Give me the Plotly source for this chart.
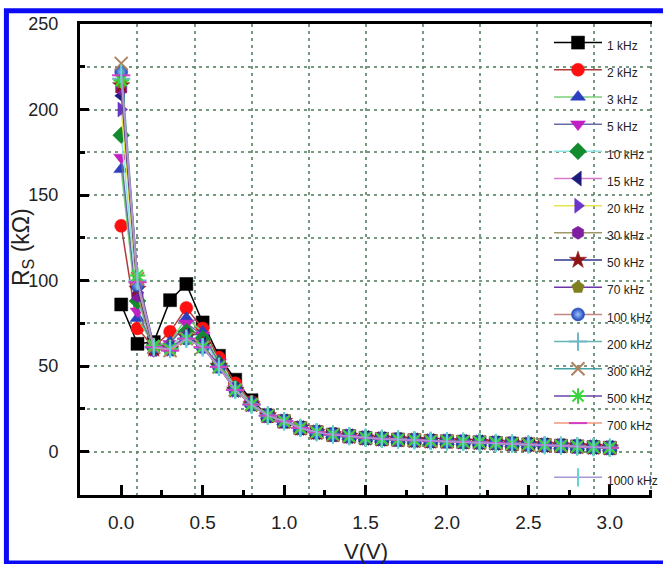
import plotly.graph_objects as go

# Bias voltage (V)
voltage = [0.0, 0.1, 0.2, 0.3, 0.4, 0.5, 0.6, 0.7, 0.8, 0.9, 1.0,
           1.1, 1.2, 1.3, 1.4, 1.5, 1.6, 1.7, 1.8, 1.9, 2.0,
           2.1, 2.2, 2.3, 2.4, 2.5, 2.6, 2.7, 2.8, 2.9, 3.0]

# Above ~0.9 V every frequency gives the same series resistance (kOhm)
rs_common_tail = [21.0, 17.7, 13.8, 11.3, 9.9, 9.0, 8.0, 7.4, 7.0, 6.6, 6.2,
                  6.0, 5.7, 5.4, 5.0, 4.6, 4.2, 3.8, 3.4, 3.0, 2.6, 2.2]

# Series resistance Rs (kOhm) for 0.0 ... 0.8 V at each frequency
rs_1khz = [86, 63, 64, 88.5, 98, 75.5, 56, 42, 30] + rs_common_tail
rs_2khz = [132, 72, 61, 70, 84, 72, 55, 40, 29] + rs_common_tail
rs_3khz = [165, 78, 62, 64, 78, 70, 53, 38, 28.5] + rs_common_tail
rs_5khz = [172, 82, 61, 63, 75, 68, 52, 37, 28] + rs_common_tail
rs_10khz = [185, 88, 61, 61, 70, 66, 51, 37, 28] + rs_common_tail
rs_15khz = [208, 96, 60, 60, 68, 63, 50, 36, 28] + rs_common_tail
rs_20khz = [200, 93, 60, 60, 67, 62, 50, 36, 27.5] + rs_common_tail
rs_30khz = [212, 91, 59, 60, 67, 62, 50, 36, 27.5] + rs_common_tail
rs_50khz = [214, 95, 60, 60, 67, 62, 50, 36, 27.5] + rs_common_tail
rs_70khz = [216, 98, 61, 60, 66, 61, 49.5, 36, 27.5] + rs_common_tail
rs_100khz = [222, 97, 61, 60, 66, 61, 49.5, 36, 27.5] + rs_common_tail
rs_200khz = [218, 100, 61, 60, 66, 61, 49.5, 36, 27.5] + rs_common_tail
rs_300khz = [227, 101, 61, 59, 66, 61, 49.5, 36, 27.5] + rs_common_tail
rs_500khz = [217, 103, 62, 60, 66, 61, 49.5, 36, 27.5] + rs_common_tail
rs_700khz = [220, 99, 61, 59, 66, 61, 49.5, 36, 27.5] + rs_common_tail
rs_1000khz = [221, 100, 61, 60, 66, 61, 49.5, 36, 27.5] + rs_common_tail

series_names = ["1 kHz", "2 kHz", "3 kHz", "5 kHz", "10 kHz", "15 kHz", "20 kHz",
                "30 kHz", "50 kHz", "70 kHz", "100 kHz", "200 kHz", "300 kHz",
                "500 kHz", "700 kHz", "1000 kHz"]
series_values = [rs_1khz, rs_2khz, rs_3khz, rs_5khz, rs_10khz, rs_15khz, rs_20khz,
                 rs_30khz, rs_50khz, rs_70khz, rs_100khz, rs_200khz, rs_300khz,
                 rs_500khz, rs_700khz, rs_1000khz]

# (symbol, marker colour, line colour) per frequency
styles = [
    ("square", "#000000", "#000000"),
    ("circle", "#ff1010", "#b03a3a"),
    ("triangle-up", "#2a3fc0", "#7ccf7c"),
    ("triangle-down", "#c21fc2", "#6a6aa8"),
    ("diamond", "#128a2e", "#8fe3e3"),
    ("triangle-left", "#1c1c7c", "#d77ac9"),
    ("triangle-right", "#6a35c8", "#e6e64a"),
    ("hexagon", "#7d1fa0", "#9d9a66"),
    ("star", "#8e1414", "#34348a"),
    ("pentagon", "#7f7f1e", "#6a35a8"),
    ("circle", "#1d44b8", "#c48585"),
    ("cross-thin", "#6fb7c9", "#66b4b4"),
    ("x-thin", "#b0825c", "#47a3a3"),
    ("asterisk", "#39d43c", "#6a45a8"),
    ("line-ew", "#d23fc7", "#f2977a"),
    ("line-ns", "#66d4d4", "#a897d8"),
]

FONT = "Arial, Liberation Sans, sans-serif"
GRID = "rgba(95,135,105,0.85)"
GRID_DASH = "3px,4px"
X_RANGE = [-0.253, 3.259]

fig = go.Figure()

# Empty trace that puts the secondary x axis (vertical grid) on the plot
fig.add_trace(go.Scatter(x=[None], y=[None], xaxis="x2", yaxis="y",
                         showlegend=False, hoverinfo="skip"))

for i, (name, vals) in enumerate(zip(series_names, series_values)):
    symbol, mcol, lcol = styles[i]
    marker = dict(symbol=symbol, size=13, color=mcol)
    if symbol in ("cross-thin", "x-thin", "asterisk", "line-ew", "line-ns"):
        marker["line"] = dict(color=mcol, width=2)
    else:
        marker["line"] = dict(color=mcol, width=0.5)
    if i == 10:
        marker["gradient"] = dict(type="radial", color="#9cc4ff")
    fig.add_trace(go.Scatter(
        x=voltage, y=vals, mode="lines+markers",
        name='<span style="font-size:12px">%s</span>' % name,
        line=dict(color=lcol, width=1.5),
        marker=marker,
        legendgroup="last" if i == len(series_names) - 1 else "main",
    ))

fig.update_layout(
    width=663, height=564,
    margin=dict(l=80, r=0, t=24, b=69),
    paper_bgcolor="white", plot_bgcolor="white",
    font=dict(family=FONT, color="#222222"),
    showlegend=True,
    legend=dict(
        x=0.82, y=1.0, xanchor="left", yanchor="top",
        bgcolor="rgba(0,0,0,0)", borderwidth=0,
        font=dict(size=18.6, family=FONT, color="#222222"),
        itemwidth=48, traceorder="grouped", tracegroupgap=27,
    ),
    xaxis=dict(
        range=X_RANGE, showgrid=False, zeroline=False,
        showline=True, linecolor="black", linewidth=3, mirror=True,
        ticks="inside", ticklen=10, tickwidth=2.5, tickcolor="black",
        tick0=0, dtick=0.5, tickformat=".1f",
        minor=dict(dtick=0.25, ticks="inside", ticklen=5, tickwidth=2.5,
                   tickcolor="black", showgrid=False),
        tickfont=dict(size=19), ticklabelstandoff=8,
        title=dict(text="V(V)", font=dict(size=22), standoff=14),
    ),
    xaxis2=dict(
        overlaying="x", anchor="y", side="bottom", range=X_RANGE,
        tick0=0.1, dtick=0.35, showgrid=True, gridcolor=GRID, gridwidth=1.5,
        griddash=GRID_DASH, showticklabels=False, ticks="", showline=False,
        zeroline=False,
    ),
    yaxis=dict(
        range=[-25.4, 250], zeroline=False,
        showline=True, linecolor="black", linewidth=3, mirror=False,
        ticks="inside", ticklen=9, tickwidth=2.5, tickcolor="black",
        tick0=0, dtick=50,
        showgrid=True, gridcolor=GRID, gridwidth=1.5, griddash=GRID_DASH,
        minor=dict(dtick=25, ticks="inside", ticklen=5, tickwidth=2.5,
                   tickcolor="black", showgrid=True, gridcolor=GRID,
                   gridwidth=1.5, griddash=GRID_DASH),
        tickfont=dict(size=18), ticklabelstandoff=15,
    ),
    annotations=[dict(
        text="R<sub>S</sub> (k\u03a9)", textangle=-90, showarrow=False,
        xref="paper", yref="paper", x=(21 - 80) / 583, y=(495 - 247) / 471,
        xanchor="center", yanchor="middle",
        font=dict(size=23, family=FONT, color="#222222"),
    )],
    shapes=[dict(
        type="rect", xref="paper", yref="paper",
        x0=(5 - 80) / 583, x1=1.2, y0=(495 - 563) / 471, y1=(495 - 10.8) / 471,
        line=dict(color="#0a0af5", width=5), fillcolor="rgba(0,0,0,0)",
        layer="above",
    )],
)

fig.write_html("out.html")
